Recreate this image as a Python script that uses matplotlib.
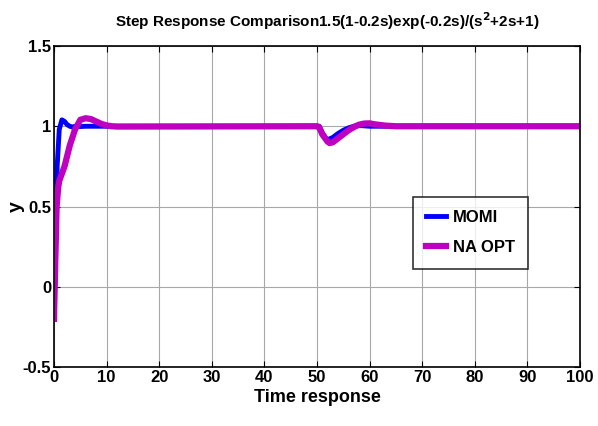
import matplotlib
matplotlib.use("Agg")
import matplotlib.pyplot as plt
from matplotlib import font_manager

# narrow bold face if present, otherwise plain Liberation Sans
names = set(f.name for f in font_manager.fontManager.ttflist)
fam = "Liberation Sans Narrow" if "Liberation Sans Narrow" in names else "Liberation Sans"
plt.rcParams["font.family"] = [fam, "DejaVu Sans"]
plt.rcParams["font.weight"] = "bold"
plt.rcParams["mathtext.default"] = "bf"

# MOMI response
t_momi = [0, 0.3, 0.6, 1.0, 1.5, 2.0, 2.5, 3.0, 3.5, 4.0, 5.0, 6.0, 8.0, 10.0,
          20.0, 50.0, 50.4, 51.0, 51.9, 53.0, 54.0, 55.0, 56.0, 57.0, 58.0, 60.0, 100.0]
y_momi = [-0.2, 0.3, 0.75, 0.98, 1.04, 1.03, 1.01, 1.0, 0.995, 1.0, 0.998, 1.0, 1.0, 1.0,
          1.0, 1.0, 1.0, 0.96, 0.915, 0.93, 0.955, 0.975, 0.99, 1.0, 1.005, 1.0, 1.0]

# NA OPT response
t_na = [0, 0.2, 0.5, 0.8, 1.0, 2.0, 3.0, 4.0, 5.0, 6.0, 7.0, 8.0, 9.0, 10.0, 11.0, 12.0,
        50.0, 50.4, 51.0, 52.0, 52.4, 53.0, 54.0, 55.0, 56.0, 57.0, 58.0, 59.0, 60.0,
        61.0, 63.0, 65.0, 100.0]
y_na = [-0.2, 0.1, 0.5, 0.62, 0.66, 0.75, 0.88, 0.98, 1.04, 1.05, 1.045, 1.03, 1.015, 1.005, 1.0, 0.998,
        1.0, 0.995, 0.95, 0.905, 0.895, 0.9, 0.925, 0.95, 0.975, 0.995, 1.01, 1.017, 1.018,
        1.012, 1.004, 1.0, 1.0]

fig = plt.figure(figsize=(5.98, 4.26), dpi=100)
ax = fig.add_axes([0.0903, 0.1385, 0.8796, 0.7535])

ax.plot(t_momi, y_momi, color="#0000ff", lw=3.5, label="MOMI")
ax.plot(t_na, y_na, color="#c000c0", lw=4.5, label="NA OPT")

ax.set_xlim(0, 100)
ax.set_ylim(-0.5, 1.5)
ax.set_xticks(range(0, 101, 10))
ax.set_yticks([-0.5, 0, 0.5, 1, 1.5])
ax.set_yticklabels(["-0.5", "0", "0.5", "1", "1.5"])
ax.grid(True, color="#a8a8a8", lw=0.8)
ax.tick_params(direction="in", labelsize=12, length=4, pad=2, top=True, right=True)
for s in ax.spines.values():
    s.set_linewidth(1.2)

ax.set_title("Step Response Comparison1.5(1-0.2s)exp(-0.2s)/(s$^2$+2s+1)",
             fontsize=11, fontweight="bold", pad=14, x=0.52)
ax.set_xlabel("Time response", fontsize=13, fontweight="bold", labelpad=3)
ax.set_ylabel("y", fontsize=14, fontweight="bold")
ax.yaxis.set_label_coords(-0.055, 0.5)

leg = ax.legend(loc="upper left", bbox_to_anchor=(0.682, 0.53), fontsize=12,
                frameon=True, fancybox=False, handlelength=1.2, borderpad=0.8,
                labelspacing=0.9, handletextpad=0.4, borderaxespad=0)
leg.get_frame().set_edgecolor("black")
leg.get_frame().set_linewidth(1.2)

plt.savefig("out.png", dpi=100)
